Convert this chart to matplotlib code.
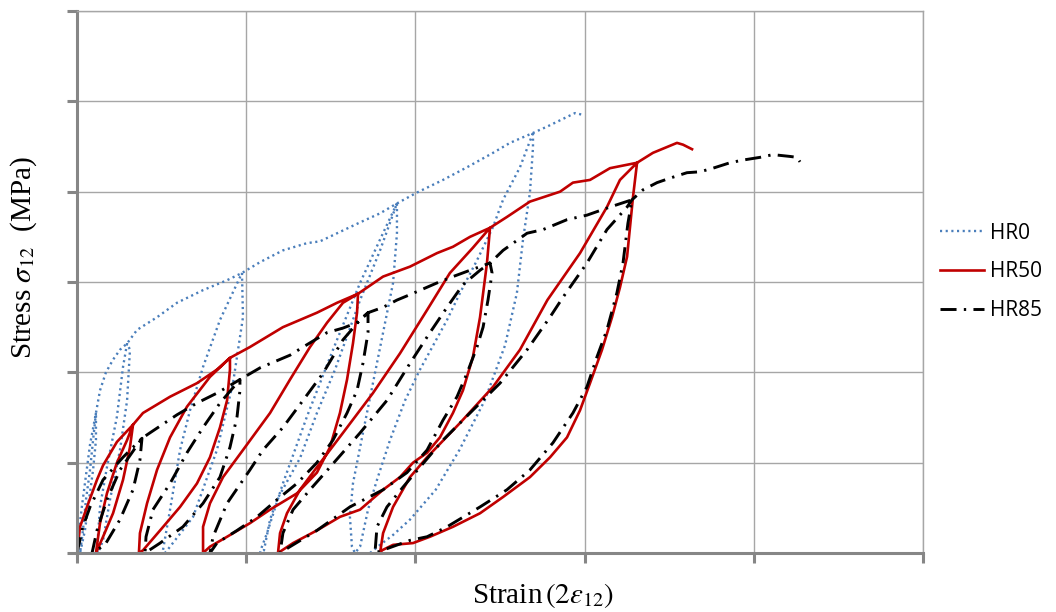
import numpy as np
import matplotlib
matplotlib.use("Agg")
import matplotlib.pyplot as plt

nan = np.nan

# HR0 (dry) - envelope and unload/reload branches, split by nan
hr0_x = [0, 0.012, 0.030, 0.053, 0.077, 0.112, 0.136, 0.171, 0.213, 0.254,
         0.296, 0.355, 0.473, 0.591, 0.745, 0.887, 0.975, 1.082, 1.217, 1.359,
         1.436, 1.537, 1.673, 1.791, 1.891, 2.009, 2.163, 2.305, 2.459, 2.559,
         2.695, 2.778, 2.855, 2.943, 2.991, nan,
         0.112, 0.095, 0.077, 0.053, 0.035, 0.018, 0.047, 0.071, 0.095, 0.112, 0.112, nan,
         0.296, 0.272, 0.236, 0.177, 0.136, 0.118, 0.124, 0.154, 0.195, 0.254, 0.296, 0.313, 0.296, nan,
         0.975, 0.981, 0.922, 0.827, 0.686, 0.550, 0.520, 0.508, 0.550, 0.609, 0.668, 0.745, 0.845, 0.975, nan,
         1.891, 1.791, 1.673, 1.513, 1.359, 1.217, 1.123, 1.093, 1.082, 1.105, 1.141, 1.182, 1.318, 1.418,
         1.525, 1.673, 1.791, 1.891, nan,
         1.891, 1.891, 1.868, 1.809, 1.749, 1.690, 1.631, 1.613, 1.625, 1.643,
         1.673, 1.720, 1.773, 1.850, 1.939, 2.027, 2.187, 2.264, 2.364, 2.459,
         2.518, 2.618, 2.695, nan,
         2.695, 2.695, 2.677, 2.636, 2.600, 2.530, 2.410, 2.260, 2.120, 1.968, 1.868, 1.791, 1.732]
hr0_y = [0, 2.5, 5.3, 8.6, 12.0, 15.5, 18.0, 20.0, 21.4, 22.5,
         23.2, 24.7, 26.1, 27.7, 29.1, 30.2, 31.0, 32.2, 33.5, 34.3,
         34.5, 35.4, 36.6, 37.6, 38.7, 39.9, 41.3, 42.7, 44.3, 45.4,
         46.5, 47.2, 47.9, 48.7, 48.5, nan,
         15.5, 12.5, 9.2, 5.9, 2.5, 0, 2.5, 5.9, 9.2, 12.5, 15.5, nan,
         23.2, 20.6, 15.1, 9.5, 5.1, 0.3, 0, 1.4, 5.9, 11.4, 16.9, 22.5, 23.2, nan,
         31.0, 26.1, 18.8, 11.4, 4.0, 0.7, 0, 0.3, 4.8, 11.4, 15.8, 20.6, 25.8, 31.0, nan,
         38.7, 34.7, 29.9, 22.5, 15.1, 7.7, 2.2, 0.7, 0, 0.3, 3.7, 5.9, 10.5, 15.5,
         20.3, 28.0, 33.5, 38.7, nan,
         38.7, 35.4, 29.9, 24.4, 18.8, 13.3, 7.7, 4.0, 0.7, 0,
         0.7, 4.8, 8.1, 12.5, 16.9, 20.3, 25.8, 28.8, 32.4, 36.1,
         39.1, 42.7, 46.5, nan,
         46.5, 44.9, 39.9, 34.7, 28.8, 23.0, 16.9, 11.4, 7.0, 3.7, 2.0, 0.9, 0]

# HR50
hr50_x = [0, 0.018, 0.059, 0.118, 0.154, 0.236, 0.331,
          0.313, 0.272, 0.213, 0.154, 0.112,
          0.136, 0.177, 0.236, 0.296, 0.331,
          0.390, 0.550, 0.709, 0.827, 0.904,
          0.904, 0.887, 0.845, 0.786, 0.709, 0.609, 0.491, 0.390, 0.366,
          0.372, 0.414, 0.473, 0.550, 0.650, 0.786, 0.904,
          1.022, 1.217, 1.418, 1.537, 1.661,
          1.655, 1.631, 1.596, 1.554, 1.495, 1.418, 1.300, 1.141, 1.022, 0.887, 0.786, 0.745,
          0.745, 0.786, 0.863, 0.981, 1.141, 1.259, 1.377, 1.478, 1.572, 1.661,
          1.809, 1.968, 2.128, 2.222, 2.323, 2.441,
          2.423, 2.382, 2.340, 2.281, 2.222, 2.145, 2.069, 1.986, 1.909, 1.809,
          1.673, 1.554, 1.418, 1.277, 1.188,
          1.200, 1.241, 1.318, 1.418, 1.572, 1.749, 1.909, 2.069, 2.204, 2.340, 2.441,
          2.541, 2.677, 2.855, 2.931, 3.032, 3.150, 3.310,
          3.286, 3.251, 3.209, 3.162, 3.103, 3.032, 2.973, 2.896, 2.796, 2.677,
          2.518, 2.382, 2.222, 2.086, 1.986, 1.868, 1.803, 1.791,
          1.809, 1.868, 1.968, 2.069, 2.264, 2.459, 2.618, 2.780, 2.973, 3.132, 3.209, 3.310,
          3.404, 3.546, 3.582, 3.635]
hr50_y = [0, 2.9, 5.1, 8.1, 9.7, 12.3, 14.2,
          11.7, 8.1, 4.4, 1.8, 0,
          3.3, 6.6, 10.0, 12.5, 14.2,
          15.5, 17.3, 18.8, 20.3, 21.6,
          20.3, 16.9, 13.9, 10.6, 7.7, 5.1, 2.5, 0.3, 0,
          2.2, 5.5, 9.2, 12.8, 16.2, 19.5, 21.6,
          22.8, 25.0, 26.6, 27.7, 28.7,
          26.6, 23.2, 19.2, 15.5, 11.7, 8.9, 6.6, 4.8, 3.3, 1.8, 0.7, 0,
          2.9, 5.5, 8.4, 11.4, 15.5, 19.2, 22.8, 25.5, 27.7, 28.7,
          30.6, 31.7, 33.2, 33.9, 35.0, 36.0,
          32.1, 26.1, 21.7, 18.0, 15.5, 12.8, 11.1, 10.0, 8.4, 7.0,
          4.8, 4.0, 2.5, 1.1, 0,
          2.2, 4.4, 7.0, 9.5, 13.3, 17.7, 22.1, 26.9, 31.0, 33.8, 36.0,
          37.2, 38.9, 40.0, 41.0, 41.3, 42.6, 43.2,
          39.4, 32.8, 29.4, 26.1, 22.5, 18.8, 15.8, 12.8, 10.6, 8.4,
          6.2, 4.4, 2.9, 1.8, 1.1, 0.9, 0.3, 0,
          2.2, 5.1, 8.4, 10.6, 14.4, 18.4, 22.5, 28.0, 33.2, 38.3, 41.3, 43.2,
          44.3, 45.4, 45.2, 44.7]

# HR85
hr85_x = [0, 0.035, 0.077, 0.154, 0.272, 0.384,
          0.372, 0.331, 0.254, 0.165, 0.089,
          0.118, 0.177, 0.254, 0.343, 0.384,
          0.431, 0.591, 0.709, 0.827, 0.963,
          0.963, 0.946, 0.904, 0.845, 0.745, 0.626, 0.491, 0.402,
          0.408, 0.449, 0.550, 0.650, 0.745, 0.845, 0.963,
          1.082, 1.259, 1.336, 1.478, 1.572, 1.655, 1.720,
          1.720, 1.690, 1.655, 1.596, 1.513, 1.418, 1.300, 1.182, 1.064, 0.946, 0.827, 0.786,
          0.804, 0.887, 1.022, 1.099, 1.217, 1.336, 1.454, 1.572, 1.673, 1.720,
          1.809, 1.891, 1.968, 2.128, 2.222, 2.323, 2.441,
          2.453, 2.429, 2.400, 2.364, 2.305, 2.246, 2.163, 2.069, 1.950, 1.809, 1.613, 1.418, 1.259, 1.200,
          1.217, 1.277, 1.377, 1.495, 1.673, 1.832, 1.968, 2.086, 2.187, 2.281, 2.382, 2.441,
          2.518, 2.660, 2.754, 2.896, 3.014, 3.150, 3.280,
          3.256, 3.227, 3.191, 3.132, 3.073, 3.014, 2.931, 2.813, 2.677, 2.541,
          2.382, 2.187, 2.069, 1.968, 1.850, 1.761,
          1.773, 1.832, 1.927, 2.027, 2.163, 2.323, 2.500, 2.660, 2.795, 2.872, 3.014, 3.132, 3.251, 3.280,
          3.345, 3.428, 3.505, 3.605, 3.682, 3.759, 3.859, 3.936, 4.037, 4.113, 4.214, 4.255, 4.273]
hr85_y = [0, 2.9, 5.1, 8.1, 10.6, 12.7,
          10.3, 7.0, 3.7, 0.9, 0,
          2.5, 5.9, 9.2, 11.6, 12.7,
          13.3, 15.3, 16.6, 17.7, 19.2,
          18.0, 15.1, 11.7, 8.4, 5.5, 2.9, 1.1, 0,
          1.8, 4.8, 7.7, 11.1, 13.9, 16.6, 19.2,
          20.5, 21.9, 22.8, 24.4, 24.9, 25.5, 26.6,
          24.4, 21.0, 18.0, 15.5, 12.5, 10.0, 7.7, 5.9, 4.0, 2.5, 1.1, 0,
          1.8, 5.5, 9.2, 11.4, 13.9, 16.9, 19.9, 23.6, 25.8, 26.6,
          27.2, 28.0, 28.6, 29.9, 30.6, 31.3, 32.1,
          31.0, 28.0, 25.0, 22.8, 19.9, 17.3, 14.7, 11.4, 8.9, 7.0, 5.1, 2.5, 0.7, 0,
          2.2, 4.8, 7.0, 9.5, 13.3, 16.9, 21.0, 24.4, 27.2, 29.7, 31.3, 32.1,
          33.5, 35.4, 35.8, 36.9, 37.4, 38.3, 39.1,
          36.5, 32.1, 28.8, 24.7, 21.7, 18.4, 15.5, 12.2, 9.2, 7.0,
          5.1, 2.9, 1.8, 1.4, 0.6, 0,
          2.9, 5.1, 7.3, 9.5, 12.5, 15.5, 18.8, 22.5, 26.1, 28.3, 32.1, 35.8, 38.3, 39.1,
          40.2, 41.0, 41.5, 42.1, 42.2, 42.6, 43.2, 43.5, 43.8, 44.1, 43.9, 43.8, 43.3]

plt.rcParams['mathtext.fontset'] = 'stix'

fig = plt.figure(figsize=(10.56, 6.12), dpi=100)
ax = fig.add_axes([77/1056, 1 - 553/612, (923 - 77)/1056, (553 - 11)/612])

ax.plot(hr0_x, hr0_y, color='#4A7EBB', lw=1.7, linestyle=(0, (0.9, 1.5)), label='HR0')
ax.plot(hr50_x, hr50_y, color='#C00000', lw=1.9, label='HR50')
ax.plot(hr85_x, hr85_y, color='black', lw=2.1, linestyle=(0, (5.5, 2.5, 0.8, 2.5)), label='HR85')

ax.set_xlim(0, 5)
ax.set_ylim(0, 60)
ax.set_xticks(np.arange(0, 6, 1))
ax.set_yticks(np.arange(0, 70, 10))
ax.set_xticklabels([])
ax.set_yticklabels([])
ax.grid(True, color='#A6A6A6', lw=1.0)
ax.set_axisbelow(True)
ax.tick_params(length=7, width=2.2, color='#868686', direction='out')
for s in ['left', 'bottom']:
    ax.spines[s].set_color('#868686')
    ax.spines[s].set_linewidth(2.2)
for s in ['top', 'right']:
    ax.spines[s].set_color('#A6A6A6')
    ax.spines[s].set_linewidth(1.0)

fig.text(543/1056, 1 - 596/612, r'Strain$\,(2\varepsilon_{12})$', ha='center', va='center',
         fontsize=21, family='Liberation Serif')
fig.text(24/1056, 1 - 258/612, r'Stress $\sigma_{12}$  (MPa)', ha='center', va='center',
         rotation=90, fontsize=21, family='Liberation Serif')

fig.legend(loc='center left', bbox_to_anchor=(940/1056, 1 - 272/612), frameon=False,
           prop={'family': 'Open Sans', 'size': 15}, handlelength=2.1, handletextpad=0.3,
           labelspacing=0.85, borderpad=0, borderaxespad=0)

fig.savefig('out.png', dpi=100)
